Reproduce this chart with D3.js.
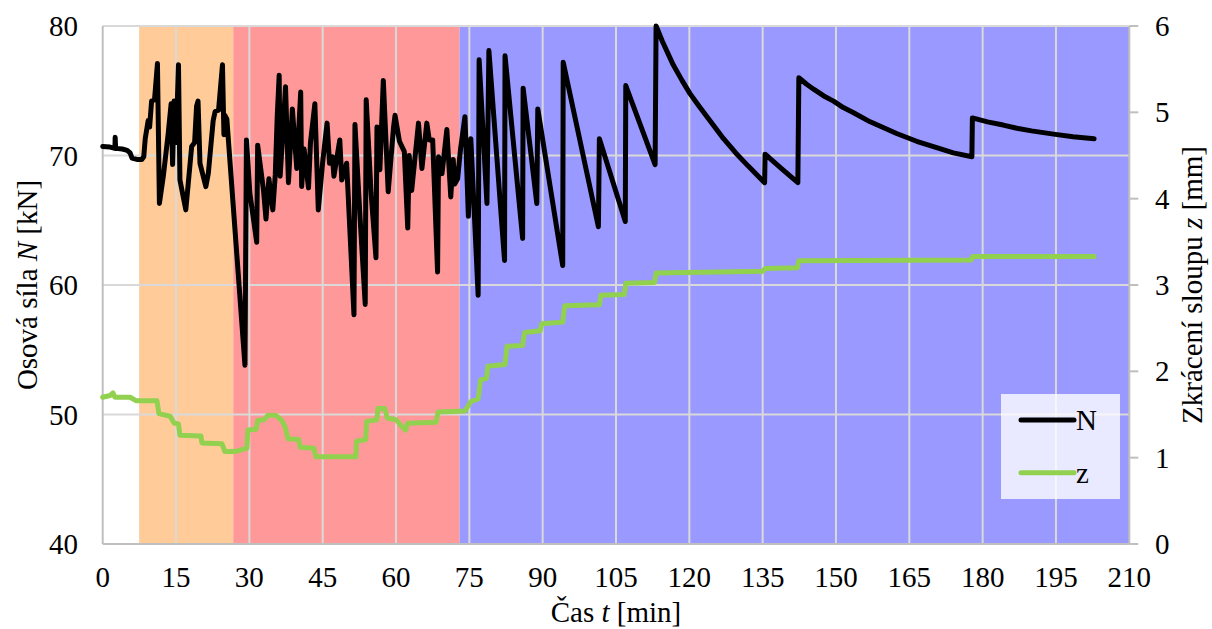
<!DOCTYPE html>
<html><head><meta charset="utf-8">
<script src="https://cdn.jsdelivr.net/npm/d3@7"></script>
<style>body{margin:0;background:#fff}svg{display:block}text{font-family:"Liberation Serif","Times New Roman",serif;fill:#000}</style>
</head><body>
<svg id="c" width="1212" height="629"></svg>
<script>
// Phases (background bands), minutes
const phaseStart = [7.45, 26.7, 73.0];
const phaseEnd   = [26.7, 73.0, 210];
const phaseColor = ["#FFCC99", "#FF9999", "#9999FF"];

// Axis ticks
const xTicks = [0,15,30,45,60,75,90,105,120,135,150,165,180,195,210];
const nTicks = [40,50,60,70,80];
const zTicks = [0,1,2,3,4,5,6];

// Axial force N [kN] vs time t [min]
const tN = [0,1.5,2.5,2.55,2.65,4.0,5.0,5.6,6.0,7.0,8.0,8.4,8.7,9.3,9.6,10.0,10.6,11.2,11.6,12.4,13.4,14.0,14.3,14.6,15.0,15.5,15.8,17.0,18.2,18.8,19.2,19.5,19.9,21.1,21.6,22.6,23.0,23.7,24.5,24.8,25.0,25.4,29.1,29.4,30.1,31.5,31.7,32.9,33.4,34.0,34.8,35.3,35.7,36.1,36.3,36.8,37.4,38.0,38.8,39.2,39.7,40.5,40.7,41.2,42.1,42.5,43.4,44.1,45.0,45.9,46.4,47.0,47.3,48.5,48.9,49.9,51.4,51.6,52.6,53.7,53.9,54.9,55.9,56.1,56.7,57.4,58.4,59.5,59.8,60.7,61.7,62.4,62.7,63.2,64.6,65.3,66.3,66.8,67.5,68.5,68.7,69.4,70.4,71.2,71.7,72.0,72.6,73.2,74.1,74.8,75.3,76.8,77.0,78.6,79.0,82.2,82.3,85.9,86.0,88.8,89.0,94.1,94.2,101.4,101.6,106.9,107.0,113.0,113.2,114.5,116.7,118.5,120.1,122.0,124.0,127.0,129.5,132.0,135.4,135.5,138.8,142.2,142.4,144.0,145.5,147.5,149.5,151.5,153.6,157.0,160.0,162.4,166.5,170.6,174.0,177.8,177.9,181.0,184.2,187.0,190.0,194.5,198.5,202.8];
const N  = [70.7,70.65,70.55,71.4,70.55,70.5,70.4,70.2,69.8,69.7,69.7,69.9,71.3,72.7,72.2,74.2,74.3,77.1,66.3,68.4,71.7,74.0,69.3,74.2,71.0,77.0,68.1,65.8,70.7,71.0,73.8,74.2,69.4,67.6,68.6,72.7,73.4,73.5,77.0,71.6,73.1,72.8,53.8,71.2,67.1,63.3,70.8,67.3,65.1,68.2,65.8,68.5,73.0,76.2,68.4,71.5,75.3,67.9,73.6,71.5,69.0,74.9,67.6,70.5,67.5,71.0,74.0,65.8,69.5,72.5,69.4,69.9,68.4,71.2,68.1,69.4,57.7,72.4,65.5,58.5,74.3,67.1,62.1,72.2,68.9,75.8,67.2,72.2,73.1,71.1,70.3,64.4,70.0,67.3,72.5,69.0,72.5,71.2,71.2,61.0,69.9,68.6,72.0,66.8,69.7,67.8,68.2,70.5,73.0,65.3,71.3,59.2,77.4,66.3,78.1,61.9,77.7,63.6,75.2,66.3,73.6,61.5,77.2,64.5,71.3,64.9,75.4,69.3,80.0,78.8,77.0,75.8,74.8,73.8,72.8,71.3,70.2,69.2,67.9,70.1,69.0,67.9,76.0,75.5,75.1,74.6,74.2,73.7,73.3,72.6,72.1,71.7,71.1,70.6,70.2,69.9,72.9,72.6,72.35,72.1,71.9,71.65,71.45,71.3];

// Column shortening z [mm] vs time t [min]
const tZ = [0,1.5,2.1,2.5,5.6,6.8,11.1,11.5,13.8,14.6,15.5,15.8,20.1,20.3,24.4,25.0,27.1,29.5,29.7,31.4,31.7,33.0,33.8,35.4,36.5,37.3,37.9,40.1,40.4,43.2,43.6,51.8,51.9,53.8,54.0,56.1,56.3,57.7,58.2,60.0,61.2,62.0,62.4,68.2,68.6,74.1,75.3,76.8,77.3,78.5,78.8,82.3,82.7,85.9,86.3,89.5,89.8,94.1,94.5,101.6,101.9,106.7,107.0,112.9,113.2,135.1,135.5,142.1,142.4,177.6,178.0,202.8];
const Z  = [1.70,1.72,1.75,1.70,1.70,1.66,1.66,1.51,1.48,1.40,1.39,1.26,1.25,1.17,1.16,1.07,1.07,1.11,1.32,1.33,1.43,1.44,1.49,1.49,1.44,1.36,1.22,1.21,1.12,1.11,1.01,1.01,1.19,1.21,1.42,1.44,1.57,1.57,1.46,1.44,1.36,1.32,1.40,1.41,1.53,1.54,1.65,1.68,1.90,1.92,2.06,2.08,2.29,2.30,2.45,2.47,2.55,2.57,2.76,2.77,2.88,2.89,3.02,3.03,3.14,3.16,3.19,3.20,3.28,3.29,3.33,3.33];

const seriesNames = ["N", "z"];
const seriesColors = ["#000000", "#92D050"];

const svg = d3.select("#c");
const L = 102.7, R = 1129.3, T = 26, B = 544;
const x = d3.scaleLinear().domain([0,210]).range([L,R]);
const yN = d3.scaleLinear().domain([40,80]).range([B,T]);
const yZ = d3.scaleLinear().domain([0,6]).range([B,T]);

// bands
svg.append("g").selectAll("rect").data(phaseStart).join("rect")
  .attr("x", (d)=>x(d)).attr("y", T)
  .attr("width", (d,i)=>x(phaseEnd[i])-x(d)).attr("height", B-T)
  .attr("fill", (d,i)=>phaseColor[i]);

// gridlines
const grid = svg.append("g").attr("stroke","#D9D9D9").attr("stroke-width",2);
grid.selectAll("line.v").data(xTicks.filter(d=>d>0 && d<210)).join("line")
  .attr("x1",d=>x(d)).attr("x2",d=>x(d)).attr("y1",T).attr("y2",B);
grid.selectAll("line.h").data(nTicks.filter(d=>d>40)).join("line")
  .attr("x1",L).attr("x2",R).attr("y1",d=>yN(d)).attr("y2",d=>yN(d));

// axis lines
const ax = svg.append("g").attr("stroke","#BFBFBF").attr("stroke-width",2);
ax.append("line").attr("x1",L).attr("x2",L).attr("y1",T).attr("y2",B);
ax.append("line").attr("x1",L).attr("x2",R).attr("y1",B).attr("y2",B);
ax.append("line").attr("x1",R).attr("x2",R).attr("y1",T).attr("y2",B);
ax.selectAll("line.t").data(zTicks).join("line")
  .attr("x1",R).attr("x2",R+9).attr("y1",d=>yZ(d)).attr("y2",d=>yZ(d));

// tick labels
const fs = 29;
svg.append("g").selectAll("text").data(xTicks).join("text")
  .attr("x",d=>x(d)).attr("y",587).attr("text-anchor","middle").attr("font-size",fs).text(d=>d);
svg.append("g").selectAll("text").data(nTicks).join("text")
  .attr("x",78).attr("y",d=>yN(d)+10).attr("text-anchor","end").attr("font-size",fs).text(d=>d);
svg.append("g").selectAll("text").data(zTicks).join("text")
  .attr("x",1155).attr("y",d=>yZ(d)+10).attr("text-anchor","start").attr("font-size",fs).text(d=>d);

// axis titles
const tx = svg.append("text").attr("x",(L+R)/2).attr("y",622).attr("text-anchor","middle").attr("font-size",fs);
tx.append("tspan").text("Čas ");
tx.append("tspan").attr("font-style","italic").text("t");
tx.append("tspan").text(" [min]");
const ty = svg.append("text").attr("transform",`translate(37,${(T+B)/2}) rotate(-90)`).attr("text-anchor","middle").attr("font-size",fs);
ty.append("tspan").text("Osová síla ");
ty.append("tspan").attr("font-style","italic").text("N");
ty.append("tspan").text(" [kN]");
const tz = svg.append("text").attr("transform",`translate(1202,${(T+B)/2}) rotate(-90)`).attr("text-anchor","middle").attr("font-size",fs);
tz.append("tspan").text("Zkrácení sloupu ");
tz.append("tspan").attr("font-style","italic").text("z");
tz.append("tspan").text(" [mm]");

// lines
const lineN = d3.line().x((d,i)=>x(tN[i])).y(d=>yN(d));
const lineZ = d3.line().x((d,i)=>x(tZ[i])).y(d=>yZ(d));
svg.append("path").attr("d",lineN(N)).attr("fill","none").attr("stroke",seriesColors[0])
  .attr("stroke-width",5).attr("stroke-linejoin","round").attr("stroke-linecap","round");
svg.append("path").attr("d",lineZ(Z)).attr("fill","none").attr("stroke",seriesColors[1])
  .attr("stroke-width",5).attr("stroke-linejoin","round").attr("stroke-linecap","round");

// legend
const lg = svg.append("g");
lg.append("rect").attr("x",1001).attr("y",394).attr("width",119).attr("height",105).attr("fill","rgba(255,255,255,0.78)");
seriesNames.forEach((s,i)=>{
  const yy = 420 + i*52.7;
  lg.append("line").attr("x1",1021).attr("x2",1074).attr("y1",yy).attr("y2",yy)
    .attr("stroke",seriesColors[i]).attr("stroke-width",5).attr("stroke-linecap","round");
  lg.append("text").attr("x",1076).attr("y",yy+10).attr("font-size",fs).text(s);
});
</script>
</body></html>
